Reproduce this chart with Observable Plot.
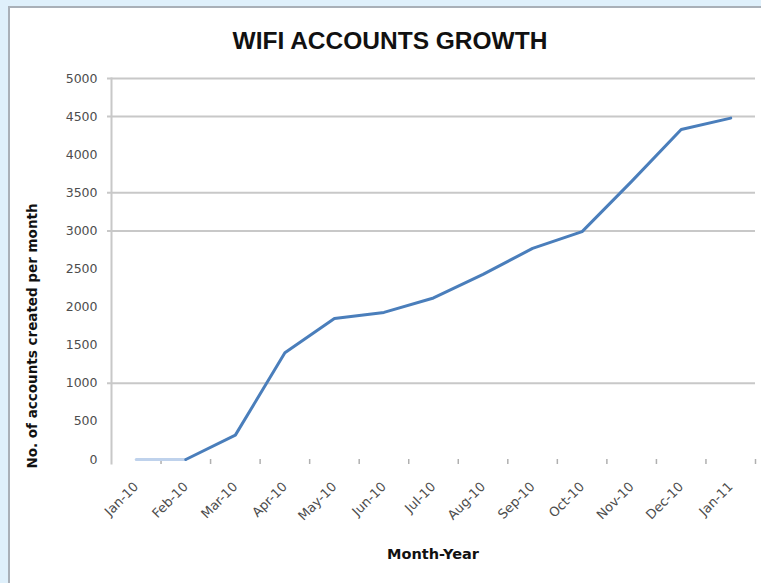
<!DOCTYPE html>
<html>
<head>
<meta charset="utf-8">
<script src="https://cdn.jsdelivr.net/npm/d3@7"></script>
<script src="https://cdn.jsdelivr.net/npm/@observablehq/plot@0.6"></script>
<style>
  html, body { margin: 0; padding: 0; }
  #wrap { position: relative; width: 761px; height: 583px; background: #dff0fb; overflow: hidden; }
  #panel { position: absolute; left: 8px; top: 6px; right: 0; bottom: 0; background: #fff;
           border-left: 2px solid #a9b0b8; border-top: 2px solid #a9b0b8; }
  #chart { position: absolute; left: 0; top: 0; }
  .title { position: absolute; left: 190px; width: 400px; top: 29px; text-align: center;
           font: bold 24.5px "Liberation Sans", Arial, sans-serif; line-height: 24.5px; color: #111; white-space: nowrap; }
  .ylab { position: absolute; left: 31.5px; top: 336px; transform: translate(-50%, -50%) rotate(-90deg);
          font: bold 13.5px "DejaVu Sans", sans-serif; color: #111; white-space: nowrap; }
  .xlab { position: absolute; left: 433px; top: 546px; transform: translateX(-50%);
          font: bold 14.5px "DejaVu Sans", sans-serif; color: #111; white-space: nowrap; }
</style>
</head>
<body>
<div id="wrap">
  <div id="panel"></div>
  <div id="chart"></div>
  <div class="title">WIFI ACCOUNTS GROWTH</div>
  <div class="ylab">No. of accounts created per month</div>
  <div class="xlab">Month-Year</div>
</div>
<script>
const months = ["Jan-10","Feb-10","Mar-10","Apr-10","May-10","Jun-10","Jul-10","Aug-10","Sep-10","Oct-10","Nov-10","Dec-10","Jan-11"];
const accounts = [0, 0, 320, 1400, 1850, 1930, 2120, 2430, 2770, 2990, 3650, 4330, 4480];
const yTicks = [0, 500, 1000, 1500, 2000, 2500, 3000, 3500, 4000, 4500, 5000];
const gridValues = [1000, 3000, 3500, 4500, 5000];

const data = months.map((m, i) => ({i, m, v: accounts[i]}));
const idx = d3.range(months.length);
const boundaries = idx.map(i => i + 0.5);

const chart = Plot.plot({
  width: 761,
  height: 583,
  marginLeft: 111,
  marginRight: 6,
  marginTop: 78,
  marginBottom: 124,
  style: {background: "transparent", fontFamily: "DejaVu Sans, sans-serif", fontSize: "12.5px", color: "#4d4d4d"},
  x: {type: "linear", domain: [-0.5, months.length - 0.5], grid: false},
  y: {domain: [0, 5000], grid: false},
  marks: [
    Plot.ruleY(gridValues, {stroke: "#c8c8c8", strokeWidth: 2, insetLeft: -4}),
    Plot.frame({anchor: "left", stroke: "#c8c8c8", strokeWidth: 2, insetBottom: -4}),
    Plot.axisY(yTicks, {tickSize: 0, tickPadding: 14, label: null, fill: "#4d4d4d", tickFormat: d => String(d)}),
    Plot.axisX(boundaries, {tickSize: 5, tickFormat: () => "", stroke: "#b0b0b0", strokeWidth: 1.5, label: null}),
    Plot.axisX(idx, {tickSize: 0, tickRotate: -45, tickPadding: 25, tickFormat: i => months[i], label: null, fill: "#4d4d4d", fontSize: 13}),
    Plot.line(data.slice(0, 2), {x: "i", y: "v", stroke: "#bfd2ec", strokeWidth: 3}),
    Plot.line(data.slice(1), {x: "i", y: "v", stroke: "#4a7ebb", strokeWidth: 3})
  ]
});
document.getElementById("chart").appendChild(chart);
</script>
</body>
</html>
